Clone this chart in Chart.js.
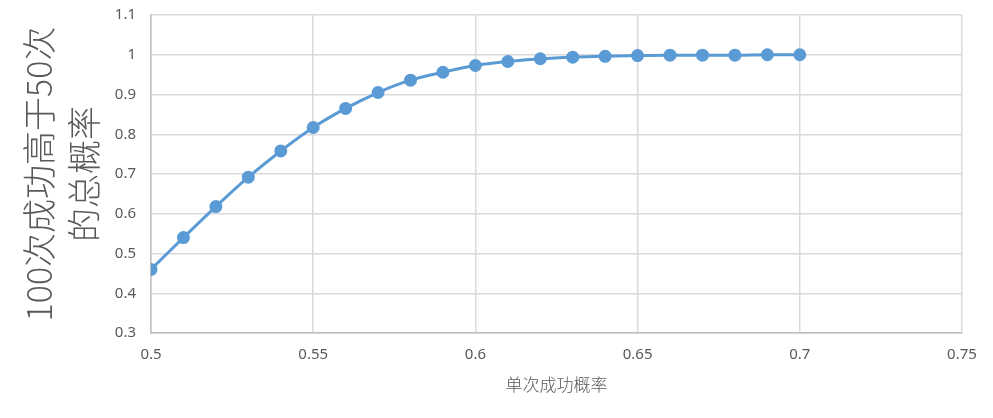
<!DOCTYPE html>
<html>
<head>
<meta charset="utf-8">
<script src="https://cdn.jsdelivr.net/npm/chart.js@4/dist/chart.umd.min.js"></script>
<style>
  html, body { margin: 0; padding: 0; background: #fff; }
  #wrap { width: 993px; height: 418px; }
</style>
</head>
<body>
<div id="wrap"><canvas id="chartId" width="993" height="418"></canvas></div>
<script>
// single-trial success probability
var pSingle = [0.50, 0.51, 0.52, 0.53, 0.54, 0.55, 0.56, 0.57, 0.58, 0.59, 0.60,
               0.61, 0.62, 0.63, 0.64, 0.65, 0.66, 0.67, 0.68, 0.69, 0.70];
// probability of more than 50 successes in 100 trials
var pTotal = [0.460, 0.540, 0.618, 0.692, 0.758, 0.817, 0.865, 0.905, 0.936, 0.956, 0.973,
              0.983, 0.990, 0.994, 0.996, 0.998, 0.999, 0.999, 0.999, 1.000, 1.000];
var xTicks = [0.5, 0.55, 0.6, 0.65, 0.7, 0.75];
var yTicks = [0.3, 0.4, 0.5, 0.6, 0.7, 0.8, 0.9, 1, 1.1];
var xTitle = '单次成功概率';
var yTitle = ['100次成功高于50次', '的总概率'];

var points = pSingle.map(function(x, i) {
    return {x: x, y: pTotal[i]};
});

var gridColor = '#d9d9d9';
var textColor = '#595959';
var tickFont = {family: "'Noto Sans', 'Noto Sans CJK SC', sans-serif", size: 15};
var cjkFont = "'Noto Sans CJK SC', sans-serif";

function fmt(v) {
    return String(Number(v.toFixed(2)));
}

new Chart(document.getElementById('chartId').getContext('2d'), {
    type: 'scatter',
    data: {
        datasets: [{
            data: points,
            showLine: true,
            borderColor: '#5b9bd5',
            backgroundColor: '#5b9bd5',
            borderWidth: 3,
            pointRadius: 5,
            pointHoverRadius: 5,
            cubicInterpolationMode: 'monotone'
        }]
    },
    options: {
        responsive: false,
        animation: false,
        layout: {padding: {top: 15, right: 31, left: 0, bottom: 0}},
        plugins: {legend: {display: false}, tooltip: {enabled: false}},
        scales: {
            x: {
                type: 'linear',
                min: xTicks[0],
                max: xTicks[xTicks.length - 1],
                afterBuildTicks: function(axis) {
                    axis.ticks = xTicks.map(function(v) { return {value: v}; });
                },
                afterFit: function(axis) {
                    axis.height = 85;
                    axis.paddingLeft = 0;
                    axis.paddingRight = 0;
                },
                grid: {color: gridColor, lineWidth: 1.5, drawTicks: false},
                border: {color: '#bfbfbf', width: 1.5},
                ticks: {
                    color: textColor, font: tickFont, padding: 13, maxRotation: 0,
                    callback: function(v) { return fmt(v); }
                },
                title: {
                    display: true, text: xTitle, color: textColor,
                    font: {family: cjkFont, size: 17, weight: '300'}, padding: {top: 4, bottom: 23}
                }
            },
            y: {
                min: yTicks[0],
                max: yTicks[yTicks.length - 1],
                afterBuildTicks: function(axis) {
                    axis.ticks = yTicks.map(function(v) { return {value: v}; });
                },
                afterFit: function(axis) {
                    axis.width = 151;
                    axis.paddingTop = 0;
                    axis.paddingBottom = 0;
                },
                grid: {color: gridColor, lineWidth: 1.5, drawTicks: false},
                border: {color: '#bfbfbf', width: 1.5},
                ticks: {
                    color: textColor, font: tickFont, padding: 15,
                    callback: function(v) { return fmt(v); }
                },
                title: {
                    display: true, text: yTitle, color: textColor,
                    font: {family: cjkFont, size: 34, lineHeight: 1.32, weight: '300'},
                    padding: {top: 17, bottom: 0}
                }
            }
        }
    }
});
</script>
</body>
</html>
